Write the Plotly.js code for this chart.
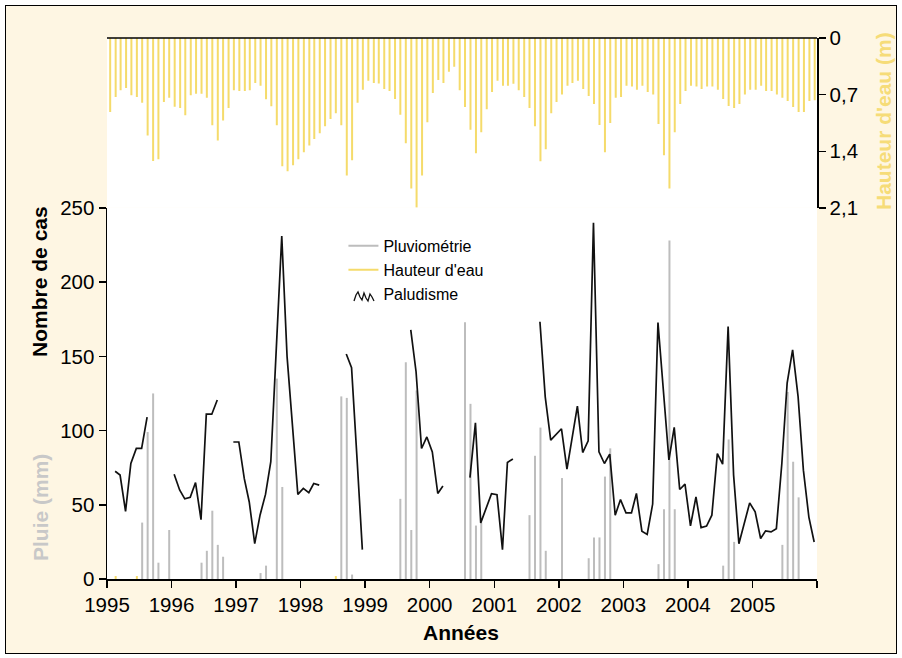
<!DOCTYPE html>
<html>
<head>
<meta charset="utf-8">
<script src="https://cdn.plot.ly/plotly-3.0.1.min.js"></script>
<style>
  html, body { margin: 0; padding: 0; background: #ffffff; }
  #frame { position: absolute; left: 5px; top: 5px; width: 890px; height: 647px;
           border: 1px solid #000; background: #FEF6E3; }
  #chart { position: absolute; left: 0; top: 0; width: 902px; height: 658px; }
</style>
</head>
<body>
<div id="frame"></div>
<div id="chart"></div>
<script>
// ---- Data (monthly, Jan 1995 .. Dec 2005) ----
const years = [1995,1996,1997,1998,1999,2000,2001,2002,2003,2004,2005];
const yearTicks = ["1995","1996","1997","1998","1999","2000","2001","2002","2003","2004","2005",""];

// Water height (m), one value per month
const hauteur1995 = [0.915,0.73,0.646,0.617,0.708,0.73,0.80,1.205,1.52,1.50,0.79,0.74];
const hauteur1996 = [0.85,0.865,0.955,0.708,0.69,0.69,0.74,1.08,1.267,1.02,0.865,0.646];
const hauteur1997 = [0.654,0.654,0.646,0.555,0.59,0.758,0.845,1.08,1.586,1.648,1.573,1.50];
const hauteur1998 = [1.412,1.33,1.25,1.176,1.09,1.0,0.93,1.08,1.70,1.51,0.80,0.64];
const hauteur1999 = [0.53,0.555,0.563,0.63,0.654,0.754,0.95,1.30,1.86,2.095,1.70,1.04];
const hauteur2000 = [0.68,0.518,0.555,0.418,0.356,0.646,0.853,1.135,1.424,1.164,0.882,0.667];
const hauteur2001 = [0.53,0.59,0.59,0.567,0.646,0.73,0.865,1.09,1.524,1.375,0.93,0.79];
const hauteur2002 = [0.70,0.59,0.555,0.53,0.63,0.716,0.816,1.077,1.412,1.05,0.74,0.73];
const hauteur2003 = [0.59,0.60,0.64,0.59,0.667,0.70,1.064,1.45,1.86,1.164,0.816,0.654];
const hauteur2004 = [0.59,0.60,0.63,0.60,0.60,0.64,0.754,0.841,0.865,0.816,0.70,0.64];
const hauteur2005 = [0.64,0.59,0.654,0.654,0.70,0.74,0.78,0.853,0.915,0.915,0.78,0.77];

// Rainfall (mm)
const pluie1995 = [0,0,0,0,0,0,38,99,125,11,0,33];
const pluie1996 = [0,0,0,0,0,11,19,46,23,15,0,0];
const pluie1997 = [0,0,0,0,4,9,0,135,62,0,0,0];
const pluie1998 = [0,0,0,0,0,0,0,123,122,3,0,0];
const pluie1999 = [0,0,0,0,0,0,54,146,33,127,0,0];
const pluie2000 = [0,0,0,0,0,0,173,118,36,38,0,0];
const pluie2001 = [0,0,0,0,0,0,43,83,102,19,0,0];
const pluie2002 = [68,0,0,0,0,14,28,28,69,88,0,0];
const pluie2003 = [0,0,0,0,0,0,10,47,228,47,0,0];
const pluie2004 = [0,0,0,0,0,0,9,94,25,0,0,0];
const pluie2005 = [0,0,0,0,0,23,126,79,55,0,0,0];

// Small yellow marks at the base of the lower panel
const marques1995 = [0,2,0,0,0,2,0,0,0,0,0,0];
const marques1998 = [0,0,0,0,0,0,2,0,0,0,0,0];

// Malaria cases (null = no data)
const palu1995 = [null,72.6,70,45.6,77.8,88,88,109,null,null,null,null];
const palu1996 = [70.6,60,54,55,65,40,111,111,120.6,null,null,92.3];
const palu1997 = [92.3,67.6,51.9,23.8,43,57,79,155,231,150,100,57];
const palu1998 = [61,58.2,64.3,63.2,null,null,null,null,151.6,142.4,81,19.8];
const palu1999 = [null,null,null,null,null,null,null,null,167.8,139.6,87.9,95.7];
const palu2000 = [85.6,57.6,62.6,null,null,null,null,68.3,105.2,37.8,48,57.5];
const palu2001 = [56.8,19.8,78.5,80.8,null,null,null,null,173.3,122.7,93.6,97];
const palu2002 = [101.2,74,95,116.5,85.2,93.1,240,85.6,77.8,84.1,43,53.5];
const palu2003 = [44.5,44.5,57.6,32.2,30,50.5,172.8,126,80.2,102.1,60.3,63.9];
const palu2004 = [35.8,55.3,34.6,35.6,43,84.5,77.4,170,70,23.8,37.3,51.3];
const palu2005 = [45.2,27.3,32.4,31.7,33.9,77.8,131.9,154.3,122.8,73.3,41.7,24.9];

// ---- Assemble monthly series ----
const hauteur = [].concat(hauteur1995,hauteur1996,hauteur1997,hauteur1998,hauteur1999,hauteur2000,hauteur2001,hauteur2002,hauteur2003,hauteur2004,hauteur2005);
const pluie = [].concat(pluie1995,pluie1996,pluie1997,pluie1998,pluie1999,pluie2000,pluie2001,pluie2002,pluie2003,pluie2004,pluie2005);
const zeros = [0,0,0,0,0,0,0,0,0,0,0,0];
const marques = [].concat(marques1995,zeros,zeros,marques1998,zeros,zeros,zeros,zeros,zeros,zeros,zeros);
const palu = [].concat(palu1995,palu1996,palu1997,palu1998,palu1999,palu2000,palu2001,palu2002,palu2003,palu2004,palu2005);

function monthDates(day) {
  const out = [];
  years.forEach(y => { for (let m = 1; m <= 12; m++) out.push(y + "-" + String(m).padStart(2,"0") + "-" + day); });
  return out;
}
const moisBarres = monthDates("19");
const moisLigne = monthDates("16");
const yearStarts = years.concat([2006]).map(y => y + "-01-01");

const GRIS = "#BDBDBD", JAUNE = "#F5DB6B";
const BAR_W = 0.98e9; // ~2 px

const traces = [
  { type: "bar", x: moisBarres, y: pluie, xaxis: "x", yaxis: "y", marker: { color: GRIS, line: { width: 0 } },
    width: BAR_W, showlegend: false, hoverinfo: "skip" },
  { type: "bar", x: moisBarres, y: marques, xaxis: "x", yaxis: "y", marker: { color: JAUNE, line: { width: 0 } },
    width: BAR_W, showlegend: false, hoverinfo: "skip" },
  { type: "bar", x: moisBarres, y: hauteur, xaxis: "x", yaxis: "y2", marker: { color: JAUNE, line: { width: 0 } },
    width: BAR_W, showlegend: false, hoverinfo: "skip" },
  { type: "scatter", mode: "lines", x: moisLigne, y: palu, xaxis: "x", yaxis: "y", name: "Paludisme",
    line: { color: "#111111", width: 1.7 }, connectgaps: false, showlegend: false },
  { type: "scatter", mode: "lines", x: [null], y: [null], name: "Pluviométrie", line: { color: GRIS, width: 2 } },
  { type: "scatter", mode: "lines", x: [null], y: [null], name: "Hauteur d'eau", line: { color: JAUNE, width: 2 } },
  { type: "scatter", mode: "lines", x: [null], y: [null], name: "Paludisme", line: { color: "rgba(0,0,0,0)", width: 2 } }
];

const FONT = "Liberation Sans, Arial, Helvetica, sans-serif";
const DOM = 0.686;

// Legend squiggle icon for "Paludisme" (pixel points -> paper coordinates)
const PLOT_L = 107, PLOT_W = 710, PLOT_B = 579, PLOT_H = 541;
function px(x) { return ((x - PLOT_L) / PLOT_W).toFixed(5); }
function py(y) { return ((PLOT_B - y) / PLOT_H).toFixed(5); }
const squigglePts = [[354,301],[356,295],[358,292],[360,297],[362,300],[364,293],[366,298],[368,301],[370,294],[372,297],[374,301]];
const squigglePath = squigglePts.map((p, i) => (i ? "L" : "M") + px(p[0]) + "," + py(p[1])).join(" ");

const layout = {
  width: 902, height: 658,
  margin: { l: 107, r: 85, t: 38, b: 79 },
  paper_bgcolor: "rgba(0,0,0,0)",
  plot_bgcolor: "#ffffff",
  barmode: "overlay",
  font: { family: FONT, size: 20, color: "#000" },
  showlegend: true,
  legend: { x: 0.333, y: 0.647, xanchor: "left", yanchor: "top", bgcolor: "rgba(0,0,0,0)",
            font: { size: 16, family: FONT }, traceorder: "normal", tracegroupgap: 0 },
  xaxis: {
    type: "date", range: ["1995-01-01", "2006-01-01"], anchor: "y",
    tickmode: "array", tickvals: yearStarts, ticktext: yearTicks,
    ticks: "outside", ticklen: 7, tickwidth: 1.5, tickcolor: "#000",
    showline: true, linecolor: "#000", linewidth: 1.5, showgrid: false, zeroline: false,
    tickfont: { size: 20.5 }
  },
  yaxis: {
    domain: [0, DOM], range: [0, 250], tickmode: "array", tickvals: [0,50,100,150,200,250],
    ticks: "outside", ticklen: 7, tickwidth: 1.5, tickcolor: "#000",
    showline: true, linecolor: "#000", linewidth: 1.5, showgrid: false, zeroline: false,
    tickfont: { size: 20.5 }
  },
  yaxis2: {
    domain: [DOM, 1], range: [2.1, 0], anchor: "x", side: "right",
    tickmode: "array", tickvals: [0, 0.7, 1.4, 2.1], ticktext: ["0", "0,7", "1,4", "2,1"],
    ticks: "outside", ticklen: 7, tickwidth: 1.5, tickcolor: "#000",
    showline: true, linecolor: "#000", linewidth: 1.5, showgrid: false, zeroline: false,
    tickfont: { size: 20.5 }
  },
  shapes: [
    { type: "line", xref: "paper", yref: "paper", x0: 0, x1: 1, y0: 1, y1: 1,
      line: { color: "#000", width: 1.5 } },
    { type: "path", xref: "paper", yref: "paper", path: squigglePath,
      line: { color: "#111111", width: 1.3 } }
  ],
  annotations: [
    { text: "Nombre de cas", xref: "paper", yref: "paper", x: -0.0944, y: 0.551, textangle: -90,
      showarrow: false, xanchor: "center", yanchor: "middle",
      font: { size: 21, family: FONT, color: "#000", weight: "bold" } },
    { text: "Pluie (mm)", xref: "paper", yref: "paper", x: -0.0944, y: 0.133, textangle: -90,
      showarrow: false, xanchor: "center", yanchor: "middle",
      font: { size: 21, family: FONT, color: "#C8C8C8", weight: "bold" } },
    { text: "Hauteur d'eau (m)", xref: "paper", yref: "paper", x: 1.0944, y: 0.8466, textangle: -90,
      showarrow: false, xanchor: "center", yanchor: "middle",
      font: { size: 21, family: FONT, color: "#F6DC78", weight: "bold" } },
    { text: "Années", xref: "paper", yref: "paper", x: 0.4986, y: -0.0998,
      showarrow: false, xanchor: "center", yanchor: "middle",
      font: { size: 21, family: FONT, color: "#000", weight: "bold" } }
  ]
};

Plotly.newPlot("chart", traces, layout, { displayModeBar: false, staticPlot: true });
</script>
</body>
</html>
